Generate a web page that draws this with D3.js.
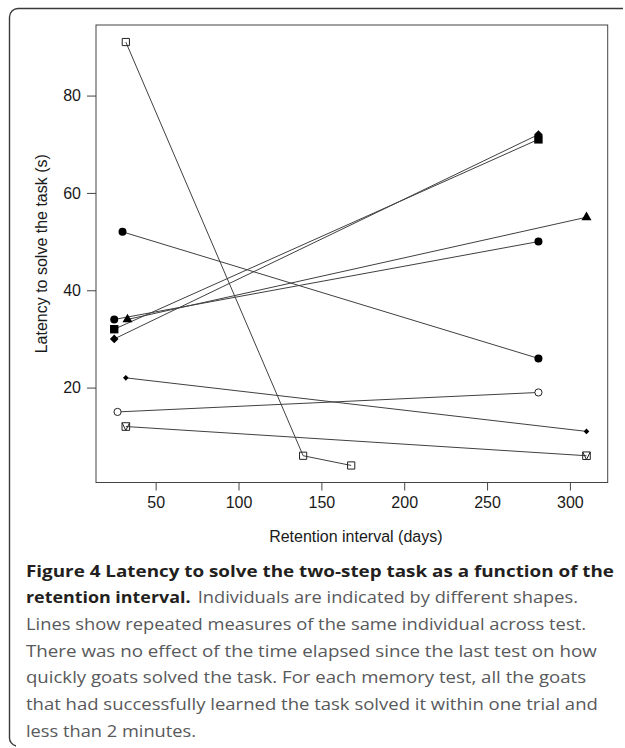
<!DOCTYPE html>
<html>
<head>
<meta charset="utf-8">
<script src="https://cdn.jsdelivr.net/npm/d3@7"></script>
<style>
  html, body { margin: 0; padding: 0; background: #fff; }
  svg { display: block; }
</style>
</head>
<body>
<script>
// ---------------- data ----------------
const individualShapes   = ["openSquare", "filledCircle", "filledCircle", "filledTriangle", "filledSquare", "filledDiamond", "smallDiamond", "openCircle", "squareV"];
const individualDays     = [[32, 139, 168], [30, 281], [25, 281], [33, 310], [25, 281], [25, 281], [32, 310], [27, 281], [32, 310]];
const individualLatency  = [[91, 6, 4],     [52, 26],  [34, 50],  [34, 55],  [32, 71],  [30, 72],  [22, 11],  [15, 19],  [12, 6]];
const xTicks = [50, 100, 150, 200, 250, 300];
const yTicks = [20, 40, 60, 80];
const xTitle = "Retention interval (days)";
const yTitle = "Latency to solve the task (s)";
const captionBold1 = "Figure 4 Latency to solve the two-step task as a function of the";
const captionBold2 = "retention interval.";
const captionRest2 = "Individuals are indicated by different shapes.";
const captionLines = [
  "Lines show repeated measures of the same individual across test.",
  "There was no effect of the time elapsed since the last test on how",
  "quickly goats solved the task. For each memory test, all the goats",
  "that had successfully learned the task solved it within one trial and",
  "less than 2 minutes."
];

// ---------------- layout ----------------
const W = 625, H = 748;
const plot = { left: 96, right: 607.7, top: 25, bottom: 482.5 };

const svg = d3.select("body").append("svg").attr("width", W).attr("height", H);

// outer frame (top + left, rounded corners)
svg.append("path")
  .attr("d", "M 623 8.5 H 18 A 8.5 8.5 0 0 0 9.5 17 V 737 A 8.5 8.5 0 0 0 16 746")
  .attr("fill", "none").attr("stroke", "#3a3a3a").attr("stroke-width", 1.4);

const x = d3.scaleLinear().domain([14, 322.8]).range([plot.left, plot.right]);
const y = d3.scaleLinear().domain([0.5, 94.5]).range([plot.bottom, plot.top]);

const axisColor = "#444";
const tickFont = "'Liberation Sans', Arial, Helvetica, sans-serif";

// box
svg.append("rect")
  .attr("x", plot.left).attr("y", plot.top)
  .attr("width", plot.right - plot.left).attr("height", plot.bottom - plot.top)
  .attr("fill", "none").attr("stroke", axisColor).attr("stroke-width", 1);

// x axis
const gx = svg.append("g").attr("transform", `translate(0,${plot.bottom})`)
  .call(d3.axisBottom(x).tickValues(xTicks).tickSize(8).tickPadding(6).tickFormat(d3.format("d")));
gx.select(".domain").remove();
gx.selectAll("line").attr("stroke", axisColor);
gx.selectAll("text").attr("font-family", tickFont).attr("font-size", 16).attr("fill", "#1a1a1a");

// y axis
const gy = svg.append("g").attr("transform", `translate(${plot.left},0)`)
  .call(d3.axisLeft(y).tickValues(yTicks).tickSize(9).tickPadding(6).tickFormat(d3.format("d")));
gy.select(".domain").remove();
gy.selectAll("line").attr("stroke", axisColor);
gy.selectAll("text").attr("font-family", tickFont).attr("font-size", 16).attr("fill", "#1a1a1a");

// axis titles
svg.append("text")
  .attr("x", (plot.left + plot.right) / 2 + 4).attr("y", 542)
  .attr("text-anchor", "middle")
  .attr("font-family", tickFont).attr("font-size", 16).attr("fill", "#1a1a1a")
  .text(xTitle);
svg.append("text")
  .attr("transform", `translate(47,${(plot.top + plot.bottom) / 2}) rotate(-90)`)
  .attr("text-anchor", "middle")
  .attr("font-family", tickFont).attr("font-size", 16).attr("fill", "#1a1a1a")
  .text(yTitle);

// ---------------- series ----------------
const series = individualShapes.map((shape, i) => ({
  shape,
  points: individualDays[i].map((d, j) => ({ day: d, lat: individualLatency[i][j] }))
}));

const line = d3.line().x(p => x(p.day)).y(p => y(p.lat));

svg.append("g").selectAll("path").data(series).join("path")
  .attr("d", s => line(s.points))
  .attr("fill", "none").attr("stroke", "#404040").attr("stroke-width", 1);

function markerPath(shape) {
  switch (shape) {
    case "filledCircle":   return d3.symbol(d3.symbolCircle, Math.PI * 4.0 * 4.0)();
    case "openCircle":     return d3.symbol(d3.symbolCircle, Math.PI * 3.6 * 3.6)();
    case "filledSquare":   return "M-4.2,-4.2H4.2V4.2H-4.2Z";
    case "openSquare":     return "M-3.6,-3.6H3.6V3.6H-3.6Z";
    case "squareV":        return "M-3.8,-3.8H3.8V3.8H-3.8Z M-3.8,-3.8L0,3.8L3.8,-3.8";
    case "filledTriangle": return "M0,-5.8L5,2.9L-5,2.9Z";
    case "filledDiamond":  return "M0,-4.3L4.3,0L0,4.3L-4.3,0Z";
    case "smallDiamond":   return "M0,-2.8L2.8,0L0,2.8L-2.8,0Z";
  }
}
const filledShapes = new Set(["filledCircle", "filledSquare", "filledTriangle", "filledDiamond", "smallDiamond"]);

const pts = series.flatMap(s => s.points.map(p => ({ ...p, shape: s.shape })));
svg.append("g").selectAll("path").data(pts).join("path")
  .attr("transform", p => `translate(${x(p.day)},${y(p.lat)})`)
  .attr("d", p => markerPath(p.shape))
  .attr("fill", p => filledShapes.has(p.shape) ? "#000" : (p.shape === "openCircle" ? "#fff" : "none"))
  .attr("stroke", p => filledShapes.has(p.shape) ? "none" : "#222")
  .attr("stroke-width", 1);

// ---------------- caption ----------------
const capFont = "'Open Sans', 'Noto Sans', sans-serif";
const capX = 26, capSize = 16.5, capLead = 26.67, capTop = 576.7;
const boldColor = "#231f20", regColor = "#58595b";

function capText(str, xPos, yPos, width, bold) {
  return svg.append("text")
    .attr("x", xPos).attr("y", yPos)
    .attr("font-family", capFont).attr("font-size", capSize)
    .attr("font-weight", bold ? 700 : 400)
    .attr("fill", bold ? boldColor : regColor)
    .attr("textLength", width).attr("lengthAdjust", "spacingAndGlyphs")
    .text(str);
}
capText(captionBold1, capX, capTop, 588, true);
capText(captionBold2, capX, capTop + capLead, 164.5, true);
capText(captionRest2, 197.7, capTop + capLead, 380.3, false);
const restWidths = [560, 570.7, 560, 571.8, 170];
captionLines.forEach((t, i) => capText(t, capX, capTop + capLead * (i + 2), restWidths[i], false));
</script>
</body>
</html>
